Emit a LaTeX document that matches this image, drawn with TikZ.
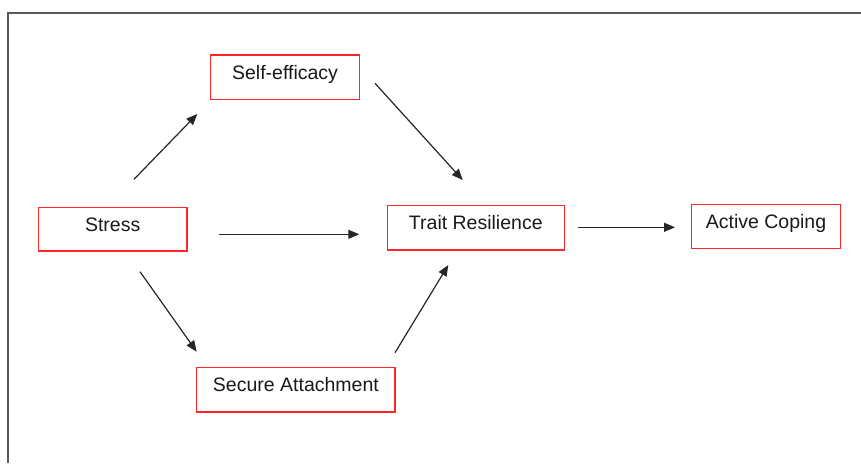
\documentclass[tikz,border=0pt]{standalone}
\usepackage{fontspec}
\setmainfont{Liberation Sans}
\usetikzlibrary{arrows.meta}
\begin{document}
\begin{tikzpicture}[x=1pt,y=-1pt,
  box/.style={draw=red!85!white, line width=1.4pt, rectangle, inner sep=0pt,
    text=black!90, font=\fontsize{19.5}{22}\selectfont,
    text height=14pt, text depth=10pt},
  arr/.style={draw=black!85, line width=1.2pt, -{Triangle[length=11pt,width=9pt]}},
  frame/.style={draw=black!65, line width=1.6pt}]
\useasboundingbox (0,0) rectangle (861,463);
\coordinate (fbl) at (8,463);
\coordinate (ftl) at (8,13);
\coordinate (ftr) at (861,13);
\draw[frame] (fbl) -- (ftl) -- (ftr);

\node[box, minimum width=148.6pt, minimum height=44.3pt] (self) at (285,77.1) {Self-efficacy};
\node[box, minimum width=148.7pt, minimum height=43.7pt] (stress) at (112.7,229.2) {Stress};
\node[box, minimum width=177pt, minimum height=44.3pt] (trait) at (475.8,227.8) {Trait Resilience};
\node[box, minimum width=148.6pt, minimum height=44pt] (active) at (766,226.3) {Active Coping};
\node[box, minimum width=198.3pt, minimum height=44.7pt] (secure) at (295.9,389.7) {Secure Attachment};

\coordinate (a1s) at (134,179.3);   \coordinate (a1e) at (197.3,114);
\coordinate (a2s) at (375,83.3);    \coordinate (a2e) at (462.7,180);
\coordinate (a3s) at (219.3,234.3); \coordinate (a3e) at (359.3,234.3);
\coordinate (a4s) at (140,271.7); \coordinate (a4e) at (196.7,351.7);
\coordinate (a5s) at (395,352.7); \coordinate (a5e) at (448.3,265);
\coordinate (a6s) at (578.3,227.3); \coordinate (a6e) at (675,227.3);

\draw[arr] (a1s) -- (a1e);
\draw[arr] (a2s) -- (a2e);
\draw[arr] (a3s) -- (a3e);
\draw[arr] (a4s) -- (a4e);
\draw[arr] (a5s) -- (a5e);
\draw[arr] (a6s) -- (a6e);
\end{tikzpicture}
\end{document}
